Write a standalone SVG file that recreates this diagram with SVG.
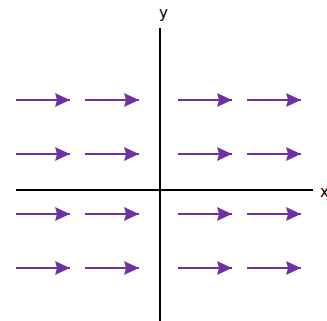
<svg xmlns="http://www.w3.org/2000/svg" width="327" height="321" viewBox="0 0 327 321">
<style>
.axis{stroke:#000;stroke-width:2;fill:none}
.vec{stroke:#7030A0;stroke-width:2;fill:none}
.lbl{font-family:"DejaVu Sans",sans-serif;font-size:15px;fill:#000}
</style>
<defs>
<marker id="ah" markerUnits="userSpaceOnUse" markerWidth="16" markerHeight="14" refX="15" refY="7" orient="auto">
<path d="M0,0 L15,7 L0,14 L2,7 Z" fill="#7030A0"/>
</marker>
</defs>
<rect width="327" height="321" fill="#fff"/>
<g id="axes">
<line class="axis" x1="160" y1="28" x2="160" y2="321"/>
<line class="axis" x1="16" y1="190" x2="313" y2="190"/>
<text class="lbl" x="159" y="18">y</text>
<text class="lbl" x="320" y="197">x</text>
</g>
<g id="connectors">
<line class="vec" x1="16" y1="100" x2="70" y2="100" marker-end="url(#ah)"/>
<line class="vec" x1="85" y1="100" x2="139" y2="100" marker-end="url(#ah)"/>
<line class="vec" x1="178" y1="100" x2="232" y2="100" marker-end="url(#ah)"/>
<line class="vec" x1="247" y1="100" x2="301" y2="100" marker-end="url(#ah)"/>
<line class="vec" x1="16" y1="154" x2="70" y2="154" marker-end="url(#ah)"/>
<line class="vec" x1="85" y1="154" x2="139" y2="154" marker-end="url(#ah)"/>
<line class="vec" x1="178" y1="154" x2="232" y2="154" marker-end="url(#ah)"/>
<line class="vec" x1="247" y1="154" x2="301" y2="154" marker-end="url(#ah)"/>
<line class="vec" x1="16" y1="214" x2="70" y2="214" marker-end="url(#ah)"/>
<line class="vec" x1="85" y1="214" x2="139" y2="214" marker-end="url(#ah)"/>
<line class="vec" x1="178" y1="214" x2="232" y2="214" marker-end="url(#ah)"/>
<line class="vec" x1="247" y1="214" x2="301" y2="214" marker-end="url(#ah)"/>
<line class="vec" x1="16" y1="268" x2="70" y2="268" marker-end="url(#ah)"/>
<line class="vec" x1="85" y1="268" x2="139" y2="268" marker-end="url(#ah)"/>
<line class="vec" x1="178" y1="268" x2="232" y2="268" marker-end="url(#ah)"/>
<line class="vec" x1="247" y1="268" x2="301" y2="268" marker-end="url(#ah)"/>
</g>
</svg>
